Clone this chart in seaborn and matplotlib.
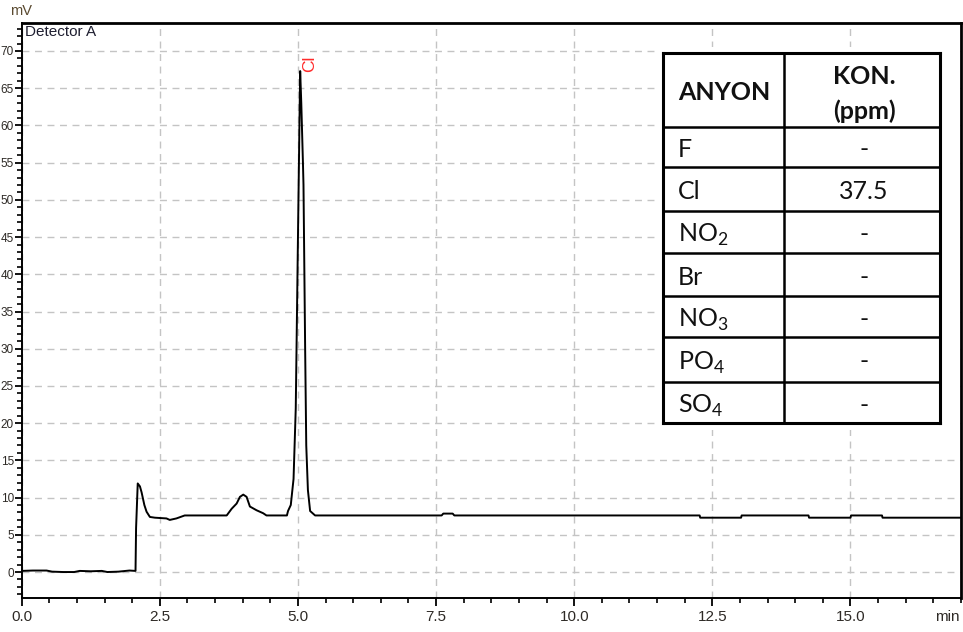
import matplotlib
matplotlib.use("Agg")
import matplotlib.pyplot as plt
import seaborn as sns
import pandas as pd
from matplotlib.ticker import MultipleLocator, FixedLocator, FixedFormatter

# ---------------- data ----------------
time_min = [0.00, 0.20, 0.45, 0.55, 0.75, 0.95, 1.05, 1.25, 1.45, 1.55, 1.75, 1.95, 2.06,
            2.07, 2.10, 2.14, 2.17, 2.22, 2.26, 2.32, 2.41, 2.62, 2.68, 2.80, 2.95,
            3.71, 3.80, 3.89, 3.95, 4.01, 4.07, 4.13, 4.25, 4.37, 4.43,
            4.80, 4.82, 4.87, 4.92, 4.96, 5.00, 5.03, 5.04, 5.06, 5.09, 5.10, 5.13,
            5.15, 5.18, 5.22, 5.31,
            7.60, 7.63, 7.80, 7.83, 12.27, 12.28, 13.02, 13.03, 14.24, 14.25,
            15.00, 15.01, 15.57, 15.58, 17.00]
signal_mv = [0.15, 0.20, 0.20, 0.05, 0.00, 0.00, 0.15, 0.10, 0.15, 0.00, 0.05, 0.20, 0.15,
             5.90, 11.9, 11.5, 10.7, 9.0, 8.1, 7.4, 7.3, 7.2, 7.0, 7.2, 7.6,
             7.6, 8.5, 9.2, 10.1, 10.4, 10.1, 8.8, 8.3, 7.9, 7.6,
             7.6, 8.2, 9.0, 12.5, 22.0, 45.0, 62.0, 67.3, 63.0, 55.0, 52.0, 30.0,
             17.0, 11.0, 8.2, 7.6,
             7.6, 7.85, 7.85, 7.6, 7.6, 7.3, 7.3, 7.6, 7.6, 7.3,
             7.3, 7.6, 7.6, 7.3, 7.3]

x_ticks = [0.0, 2.5, 5.0, 7.5, 10.0, 12.5, 15.0]
x_tick_labels = ["0.0", "2.5", "5.0", "7.5", "10.0", "12.5", "15.0"]
y_ticks = [0, 5, 10, 15, 20, 25, 30, 35, 40, 45, 50, 55, 60, 65, 70]
y_tick_labels = [str(v) for v in y_ticks]

peak_name = "Cl"
peak_label_time = 5.22
peak_label_value = 67.2

table_header = ["ANYON", "KON.\n(ppm)"]
anions = ["F", "Cl", r"NO$_\mathregular{2}$", "Br", r"NO$_\mathregular{3}$",
          r"PO$_\mathregular{4}$", r"SO$_\mathregular{4}$"]
concentrations = ["-", "37.5", "-", "-", "-", "-", "-"]

# ---------------- style ----------------
sns.set_theme(style="white")
plt.rcParams["font.family"] = ["Liberation Sans", "DejaVu Sans"]
plt.rcParams["axes.edgecolor"] = "black"

W, H = 963, 632
fig = plt.figure(figsize=(W / 100, H / 100), dpi=100)
left_px, right_px, top_px, bot_px = 21.7, 961, 23, 598
ax = fig.add_axes([left_px / W, 1 - bot_px / H, (right_px - left_px) / W, (bot_px - top_px) / H])

df = pd.DataFrame({"time": time_min, "signal": signal_mv})
sns.lineplot(data=df, x="time", y="signal", ax=ax, color="black", lw=1.4,
             estimator=None, sort=False, zorder=3)

ax.set_xlim(0, 17.0)
ax.set_ylim(-3.49, 73.76)
ax.set_xlabel("")
ax.set_ylabel("")

ax.xaxis.set_major_locator(FixedLocator(x_ticks))
ax.xaxis.set_major_formatter(FixedFormatter(x_tick_labels))
ax.xaxis.set_minor_locator(MultipleLocator(0.5))
ax.yaxis.set_major_locator(FixedLocator(y_ticks))
ax.yaxis.set_major_formatter(FixedFormatter(y_tick_labels))
ax.yaxis.set_minor_locator(MultipleLocator(1))

tick_color = "#2e2a26"
ax.tick_params(axis="x", which="major", direction="out", length=5.8, width=1.3,
               color="black", labelcolor=tick_color, labelsize=11, pad=3,
               bottom=True, top=False)
ax.tick_params(axis="x", which="minor", direction="out", length=3.6, width=1.2,
               color="black", bottom=True, top=False)
ax.tick_params(axis="y", which="major", direction="out", length=5, width=1.3,
               color="black", labelcolor=tick_color, labelsize=8.5, pad=0.5,
               left=True, right=False)
ax.tick_params(axis="y", which="minor", direction="out", length=3.4, width=1.2,
               color="black", left=True, right=False)

for s in ax.spines.values():
    s.set_visible(True)
    s.set_color("black")
    s.set_linewidth(1.4)
ax.spines["top"].set_linewidth(2.0)
ax.spines["right"].set_linewidth(2.0)

ax.grid(True, which="major", linestyle=(0, (5, 4)), color="#c4c4c4", lw=1.0, zorder=0)
ax.set_axisbelow(True)

# peak label
ax.text(peak_label_time, peak_label_value, peak_name, rotation=90, color="#ff2a2a",
        fontsize=12.5, ha="center", va="bottom", zorder=4)

# texts
ax.text(0.003, 0.997, "Detector A", transform=ax.transAxes, ha="left", va="top",
        fontsize=11, color="#1e1e30", zorder=4)
fig.text(10 / W, 1 - 11 / H, "mV", ha="left", va="center", fontsize=10.5, color="#5a4a30")
fig.text(960 / W, 1 - 617 / H, "min", ha="right", va="center", fontsize=11, color=tick_color)

# ---------------- table (pasted image region) ----------------
bx0, bx1, by0, by1 = 655, 957, 47, 430
tax = fig.add_axes([bx0 / W, 1 - by1 / H, (bx1 - bx0) / W, (by1 - by0) / H], zorder=5)
tax.set_xlim(bx0, bx1)
tax.set_ylim(by1, by0)
tax.set_facecolor("white")
for s in tax.spines.values():
    s.set_visible(False)
tax.set_xticks([])
tax.set_yticks([])

row_lines = [53.3, 126.7, 167.0, 210.7, 253.3, 296.0, 337.3, 381.7, 423.3]
col_lines = [662.7, 784.3, 940.0]
for i, yv in enumerate(row_lines):
    lw = 2.2 if i in (0, len(row_lines) - 1) else 1.8
    tax.plot([col_lines[0], col_lines[-1]], [yv, yv], color="black", lw=lw,
             solid_capstyle="projecting")
for i, xv in enumerate(col_lines):
    lw = 2.2 if i in (0, len(col_lines) - 1) else 1.8
    tax.plot([xv, xv], [row_lines[0], row_lines[-1]], color="black", lw=lw,
             solid_capstyle="projecting")

tfont = ["Lato", "DejaVu Sans"]
tsize = 18
col1_left = 678
col2_center = (col_lines[1] + col_lines[2]) / 2
hdr_center = (row_lines[0] + row_lines[1]) / 2
tax.text(col1_left, hdr_center + 10, table_header[0], ha="left", va="baseline",
         fontsize=tsize, fontweight="bold", family=tfont, color="#111111")
kon, ppm = table_header[1].split("\n")
tax.text(col2_center + 2, 84, kon, ha="center", va="baseline",
         fontsize=tsize, fontweight="bold", family=tfont, color="#111111")
tax.text(col2_center + 2, 119, ppm, ha="center", va="baseline",
         fontsize=tsize, fontweight="bold", family=tfont, color="#111111")

for i, (an, cv) in enumerate(zip(anions, concentrations)):
    yc = (row_lines[i + 1] + row_lines[i + 2]) / 2
    tax.text(col1_left, yc + 10, an, ha="left", va="baseline", fontsize=tsize,
             family=tfont, color="#111111")
    tax.text(col2_center + 2, yc + 10, cv, ha="center", va="baseline", fontsize=tsize,
             family=tfont, color="#111111")

fig.savefig("out.png", dpi=100)
